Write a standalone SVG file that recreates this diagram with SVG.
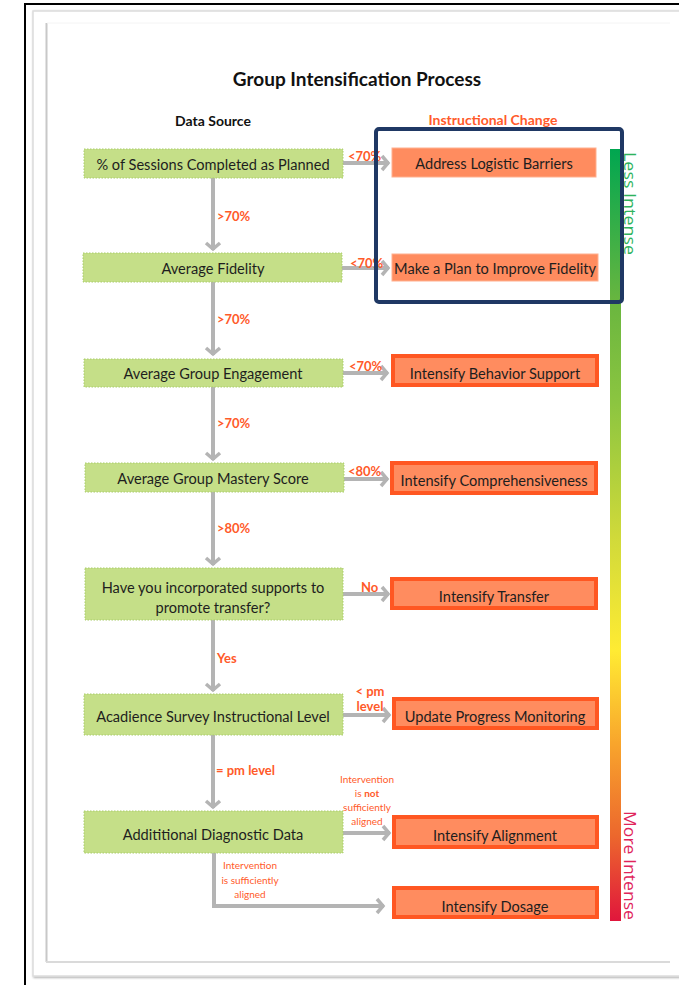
<svg xmlns="http://www.w3.org/2000/svg" width="679" height="985" viewBox="0 0 679 985">
<defs>
<style>
.src{fill:#c5df88;stroke:#a9cc6a;stroke-width:1;stroke-dasharray:1.5 1.5}
.chg{fill:#ff8c5f;stroke:#ff5722;stroke-width:4}
.chgl{fill:#ff8c5f;stroke:#ffb08f;stroke-width:1}
.t{font-family:Lato,"Liberation Sans",sans-serif;font-size:14.6px;fill:#1e1e1e;text-anchor:middle}
.lb{font-family:Lato,"Liberation Sans",sans-serif;font-size:13px;font-weight:bold;fill:#ff5a2a}
.sm{font-family:Lato,"Liberation Sans",sans-serif;font-size:10px;fill:#ff5a2a;text-anchor:middle}
.c{fill:none;stroke:#b4b4b4;stroke-width:4}
</style>
<marker id="ah" markerUnits="userSpaceOnUse" viewBox="-10 -10 20 20" markerWidth="20" markerHeight="20" refX="0" refY="0" orient="auto">
<polyline points="-7,-7 -1,0 -7,7" fill="none" stroke="#b4b4b4" stroke-width="3.5"/>
</marker>
<linearGradient id="grad" x1="0" y1="0" x2="0" y2="1">
<stop offset="0" stop-color="#00a650"/>
<stop offset="0.2" stop-color="#6ab63f"/>
<stop offset="0.33" stop-color="#8cc540"/>
<stop offset="0.5" stop-color="#cfd93a"/>
<stop offset="0.65" stop-color="#ffeb33"/>
<stop offset="0.77" stop-color="#f8a52c"/>
<stop offset="0.89" stop-color="#ec672d"/>
<stop offset="1" stop-color="#e0163c"/>
</linearGradient>
<filter id="sh" x="-5%" y="-5%" width="110%" height="110%">
<feDropShadow dx="1" dy="1" stdDeviation="1.2" flood-color="#000" flood-opacity="0.35"/>
</filter>
</defs>
<rect width="679" height="985" fill="#fff"/>
<g id="frame">
<rect x="25" y="4" width="670" height="1000" fill="#fff" stroke="#000" stroke-width="2"/>
<rect x="33" y="11" width="660" height="965" fill="#fff" stroke="#dcdcdc" stroke-width="1.5" filter="url(#sh)"/>
<line x1="46.5" y1="23" x2="46.5" y2="962" stroke="#c8c8c8" stroke-width="2"/>
<line x1="46" y1="962" x2="670" y2="962" stroke="#dadada" stroke-width="2"/>
<line x1="47" y1="23" x2="670" y2="23" stroke="#f4f4f4" stroke-width="1"/>
</g>
<g id="titles">
<text x="357" y="86" font-family="Lato,'Liberation Sans',sans-serif" font-size="19" font-weight="bold" fill="#111" text-anchor="middle">Group Intensification Process</text>
<text x="213" y="126" font-family="Lato,'Liberation Sans',sans-serif" font-size="14" font-weight="bold" fill="#111" text-anchor="middle">Data Source</text>
<text x="493" y="125" font-family="Lato,'Liberation Sans',sans-serif" font-size="14" font-weight="bold" fill="#ff5a2a" text-anchor="middle">Instructional Change</text>
</g>
<g id="scale">
<rect x="610" y="149" width="11" height="772" fill="url(#grad)"/>
<text transform="translate(624,152) rotate(90)" font-family="'Open Sans','Liberation Sans',sans-serif" font-size="17" fill="#2eb35c" textLength="103" lengthAdjust="spacingAndGlyphs">Less Intense</text>
<text transform="translate(624,811) rotate(90)" font-family="'Open Sans','Liberation Sans',sans-serif" font-size="17" fill="#e0245a" textLength="109" lengthAdjust="spacingAndGlyphs">More Intense</text>
</g>
<g id="connectors">
<line class="c" x1="213" y1="178" x2="213" y2="250" marker-end="url(#ah)"/>
<line class="c" x1="213" y1="282" x2="213" y2="355" marker-end="url(#ah)"/>
<line class="c" x1="213" y1="387" x2="213" y2="460" marker-end="url(#ah)"/>
<line class="c" x1="213" y1="492" x2="213" y2="565" marker-end="url(#ah)"/>
<line class="c" x1="213" y1="620" x2="213" y2="691" marker-end="url(#ah)"/>
<line class="c" x1="213" y1="735" x2="213" y2="808" marker-end="url(#ah)"/>
<polyline class="c" points="214,853 214,906 384,906" marker-end="url(#ah)"/>
<line class="c" x1="343" y1="163" x2="389" y2="163" marker-end="url(#ah)"/>
<line class="c" x1="342" y1="268" x2="389" y2="268" marker-end="url(#ah)"/>
<line class="c" x1="343" y1="373" x2="388" y2="373" marker-end="url(#ah)"/>
<line class="c" x1="344" y1="479" x2="388" y2="479" marker-end="url(#ah)"/>
<line class="c" x1="343" y1="594" x2="389" y2="594" marker-end="url(#ah)"/>
<line class="c" x1="343" y1="715" x2="390" y2="715" marker-end="url(#ah)"/>
<line class="c" x1="343" y1="833" x2="390" y2="833" marker-end="url(#ah)"/>
<text class="lb" x="217" y="221">&gt;70%</text>
<text class="lb" x="217" y="324">&gt;70%</text>
<text class="lb" x="217" y="428">&gt;70%</text>
<text class="lb" x="217" y="533">&gt;80%</text>
<text class="lb" x="217" y="663">Yes</text>
<text class="lb" x="216" y="775">= pm level</text>
<text class="lb" x="348" y="161">&lt;70%</text>
<text class="lb" x="350" y="268">&lt;70%</text>
<text class="lb" x="349" y="371">&lt;70%</text>
<text class="lb" x="348" y="476">&lt;80%</text>
<text class="lb" x="361" y="592">No</text>
<text class="lb" x="370" y="696" text-anchor="middle" font-size="12">&lt; pm</text>
<text class="lb" x="370" y="711" text-anchor="middle" font-size="12">level</text>
<text class="sm" x="367" y="783">Intervention</text>
<text class="sm" x="367" y="797">is <tspan font-weight="bold">not</tspan></text>
<text class="sm" x="367" y="811">sufficiently</text>
<text class="sm" x="367" y="825">aligned</text>
<text class="sm" x="250" y="869">Intervention</text>
<text class="sm" x="250" y="884">is sufficiently</text>
<text class="sm" x="250" y="898">aligned</text>
</g>
<g id="n1"><rect class="src" x="84" y="149" width="259" height="29"/><text class="t" x="213" y="170">% of Sessions Completed as Planned</text></g>
<g id="n2"><rect class="src" x="83" y="253" width="259" height="29"/><text class="t" x="213" y="274">Average Fidelity</text></g>
<g id="n3"><rect class="src" x="84" y="359" width="259" height="28"/><text class="t" x="213" y="379">Average Group Engagement</text></g>
<g id="n4"><rect class="src" x="85" y="463" width="259" height="29"/><text class="t" x="213" y="484">Average Group Mastery Score</text></g>
<g id="n5"><rect class="src" x="85" y="568" width="258" height="52"/><text class="t" x="213" y="593">Have you incorporated supports to</text><text class="t" x="213" y="613">promote transfer?</text></g>
<g id="n6"><rect class="src" x="84" y="694" width="259" height="41"/><text class="t" x="213" y="722">Acadience Survey Instructional Level</text></g>
<g id="n7"><rect class="src" x="84" y="811" width="259" height="42"/><text class="t" x="213" y="840">Addititional Diagnostic Data</text></g>
<g id="a1"><rect class="chgl" x="392" y="148" width="204" height="29"/><text class="t" x="494" y="169">Address Logistic Barriers</text></g>
<g id="a2"><rect class="chgl" x="392" y="254" width="206" height="27"/><text class="t" x="495" y="274">Make a Plan to Improve Fidelity</text></g>
<g id="a3"><rect class="chg" x="393" y="356" width="204" height="29"/><text class="t" x="495" y="379">Intensify Behavior Support</text></g>
<g id="a4"><rect class="chg" x="392" y="463" width="204" height="30"/><text class="t" x="494" y="486">Intensify Comprehensiveness</text></g>
<g id="a5"><rect class="chg" x="392" y="579" width="204" height="29"/><text class="t" x="494" y="602">Intensify Transfer</text></g>
<g id="a6"><rect class="chg" x="394" y="699" width="203" height="29"/><text class="t" x="495" y="722">Update Progress Monitoring</text></g>
<g id="a7"><rect class="chg" x="394" y="817" width="203" height="30"/><text class="t" x="495" y="841">Intensify Alignment</text></g>
<g id="a8"><rect class="chg" x="394" y="888" width="203" height="29"/><text class="t" x="495" y="912">Intensify Dosage</text></g>
<g id="highlight"><rect x="376" y="129" width="246" height="173" rx="3" fill="none" stroke="#1f3864" stroke-width="4"/></g>
</svg>
